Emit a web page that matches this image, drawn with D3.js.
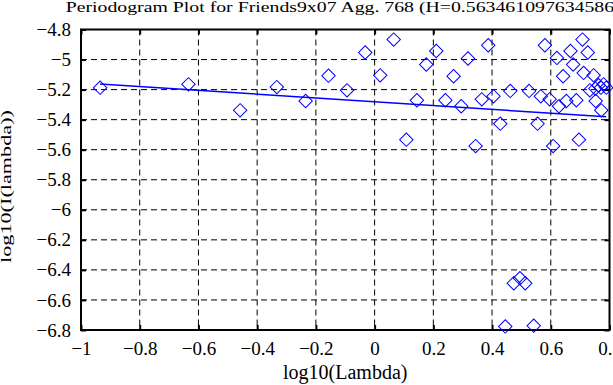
<!DOCTYPE html>
<meta charset="utf-8">
<html lang="en">
<style>
body { margin: 0; background: #fff; }
.title { font: 15px "Liberation Serif", serif; }
.tick text { font: 19px "Liberation Serif", serif; }
.grid line { stroke: #000; stroke-width: 1px; stroke-dasharray: 6,4; }
.frame { fill: none; stroke: #000; stroke-width: 2px; }
.pt { fill: none; stroke: #00f; stroke-width: 1px; }
.fit { fill: none; stroke: #00f; stroke-width: 1.5px; }
.label { font: 20px "Liberation Serif", serif; }
</style>
<body>
<div id="chart"></div>
<script src="https://d3js.org/d3.v7.min.js"></script>
<script>
// log10(lambda) and log10(I(lambda)) values
var logLambda = [-0.935, -0.634, -0.458, -0.333, -0.235, -0.157, -0.094, -0.032, 0.019, 0.065,
                 0.108, 0.144, 0.176, 0.210, 0.241, 0.269, 0.295, 0.318, 0.344, 0.365,
                 0.387, 0.405, 0.428, 0.445, 0.462, 0.474, 0.495, 0.513, 0.526, 0.542,
                 0.555, 0.566, 0.580, 0.596, 0.608, 0.621, 0.628, 0.642, 0.653, 0.667,
                 0.676, 0.687, 0.696, 0.708, 0.712, 0.726, 0.733, 0.746, 0.752, 0.753,
                 0.763, 0.771, 0.772, 0.780, 0.789];
var logI = [-5.187, -5.165, -5.338, -5.183, -5.276, -5.107, -5.205, -4.953, -5.105, -4.867,
            -5.533, -5.271, -5.033, -4.943, -5.271, -5.111, -5.311, -4.993, -5.576, -5.265,
            -4.905, -5.245, -5.427, -6.776, -5.209, -6.489, -6.455, -6.489, -5.209, -6.771,
            -5.427, -5.245, -4.905, -5.265, -5.576, -4.989, -5.311, -5.111, -5.276, -4.943,
            -5.033, -5.271, -5.533, -4.867, -5.089, -4.953, -5.205, -5.105, -5.193, -5.276,
            -5.171, -5.187, -5.338, -5.165, -5.187];
// fitted line, slope = 1 - 2H
var fitSlope = -0.12692,
    fitIntercept = -5.281;
var xTicks = [-1, -0.8, -0.6, -0.4, -0.2, 0, 0.2, 0.4, 0.6, 0.8];
var yTicks = [-4.8, -5, -5.2, -5.4, -5.6, -5.8, -6, -6.2, -6.4, -6.6, -6.8];
var titleText = "Periodogram Plot for Friends9x07 Agg. 768 (H=0.563461097634586)";

var width = 613, height = 385,
    margin = {top: 29.5, right: 3.5, bottom: 55, left: 81};

var svg = d3.select("#chart").append("svg")
    .attr("width", width)
    .attr("height", height);

var x = d3.scaleLinear().domain([-1, 0.8]).range([margin.left, width - margin.right]);
var y = d3.scaleLinear().domain([-6.8, -4.8]).range([height - margin.bottom, margin.top]);

var fmt = function(d) { return d3.format("")(d).replace("-", "\u2212"); };

// dashed grid
svg.append("g").attr("class", "grid")
  .selectAll("line").data(xTicks.slice(1, -1)).enter().append("line")
    .attr("x1", d => x(d)).attr("x2", d => x(d))
    .attr("y1", y(-4.8)).attr("y2", y(-6.8));
svg.append("g").attr("class", "grid")
  .selectAll("line").data(yTicks.slice(1, -1)).enter().append("line")
    .attr("x1", x(-1)).attr("x2", x(0.8))
    .attr("y1", d => y(d)).attr("y2", d => y(d));

// axes with inward ticks
svg.append("g")
    .attr("transform", "translate(0," + y(-6.8) + ")")
    .call(d3.axisBottom(x).tickValues(xTicks).tickSize(-5).tickPadding(12).tickFormat(fmt));
svg.append("g")
    .attr("transform", "translate(" + x(-1) + ",0)")
    .call(d3.axisLeft(y).tickValues(yTicks).tickSize(-5).tickPadding(10).tickFormat(fmt));
svg.append("g")
    .attr("transform", "translate(" + x(0.8) + ",0)")
    .call(d3.axisRight(y).tickValues(yTicks).tickSize(-5).tickFormat(""));
svg.append("g")
    .attr("transform", "translate(0," + y(-4.8) + ")")
    .call(d3.axisTop(x).tickValues(xTicks).tickSize(-5).tickFormat(""));
svg.selectAll(".domain").remove();
svg.selectAll(".tick line").attr("stroke", "#000").attr("stroke-width", 2);
svg.selectAll(".tick text").attr("fill", "#000");

svg.append("rect").attr("class", "frame")
    .attr("x", x(-1)).attr("y", y(-4.8))
    .attr("width", x(0.8) - x(-1)).attr("height", y(-6.8) - y(-4.8));

// regression line
var xr = d3.extent(logLambda);
svg.append("path").attr("class", "fit")
    .datum(xr)
    .attr("d", d3.line().x(d => x(d)).y(d => y(fitIntercept + fitSlope * d)));

// diamonds
var diamond = d3.symbol().type(d3.symbolSquare).size(90);
svg.append("g").selectAll("path").data(logLambda).enter().append("path")
    .attr("class", "pt")
    .attr("d", diamond)
    .attr("transform", (d, i) => "translate(" + x(d) + "," + y(logI[i]) + ") rotate(45)");

// title: the original font is wide, stretch it so "...3458" ends near x=605
var title = svg.append("text").attr("class", "title")
    .text(titleText);
var prefixLen = titleText.indexOf("3458") + 4;
var sx = 539 / title.node().getSubStringLength(0, prefixLen);
title.attr("transform", "translate(65.7,12) scale(" + sx + ",1)");

svg.append("text").attr("class", "label")
    .attr("x", (x(-1) + x(0.8)) / 2).attr("y", 379)
    .attr("text-anchor", "middle")
    .text("log10(Lambda)");
svg.append("text").attr("class", "label")
    .style("font-size", "15px")
    .attr("transform", "translate(11,186.5) rotate(-90)")
    .attr("text-anchor", "middle")
    .attr("textLength", 153)
    .attr("lengthAdjust", "spacingAndGlyphs")
    .text("log10(I(lambda))");
</script>
</body>
</html>
